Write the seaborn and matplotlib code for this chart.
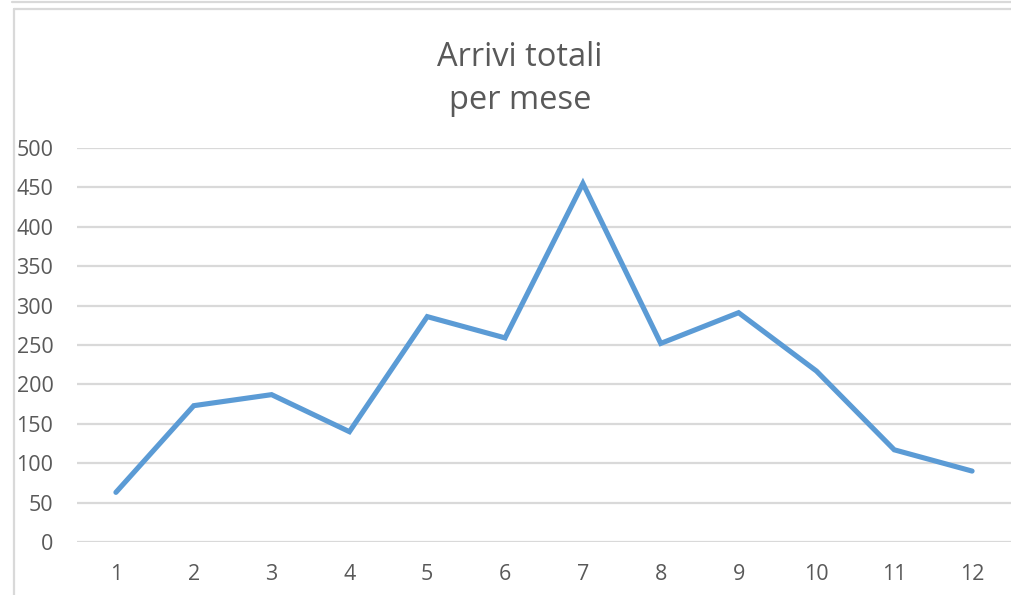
import matplotlib
matplotlib.use("Agg")
import matplotlib.pyplot as plt
from matplotlib.lines import Line2D
import seaborn as sns
import pandas as pd

# monthly arrivals
mesi = list(range(1, 13))
arrivi = [63, 173, 187, 140, 286, 259, 455, 252, 291, 217, 117, 90]

df = pd.DataFrame({"Mese": mesi, "Arrivi": arrivi})

sns.set_style("white")
plt.rcParams['font.family'] = ['Open Sans', 'DejaVu Sans']

fig = plt.figure(figsize=(10.11, 5.95), dpi=100)
ax = fig.add_axes([77 / 1011, 53 / 595, 934 / 1011, 394 / 595])

sns.lineplot(data=df, x="Mese", y="Arrivi", ax=ax, color="#5b9bd5",
             linewidth=3.7, solid_capstyle="round", solid_joinstyle="miter",
             zorder=3)

ax.set_xlim(0.5, 12.5)
ax.set_ylim(0, 500)
ax.set_xticks(mesi)
ax.set_yticks(range(0, 501, 50))
ax.yaxis.grid(True, color="#d9d9d9", linewidth=1.6)
ax.set_axisbelow(True)
for s in ax.spines.values():
    s.set_visible(False)
ax.tick_params(axis="both", length=0, labelsize=15.5, labelcolor="#595959")
ax.tick_params(axis="y", pad=17)
ax.tick_params(axis="x", pad=16)
ax.set_xlabel("")
ax.set_ylabel("")

# title, two lines, centred over chart area
fig.text(520 / 1011, 1 - 79 / 595, "Arrivi totali\nper mese", ha="center",
         va="center", fontsize=23.5, color="#595959", linespacing=1.42)

# chart frame borders (Excel-like)
fig.add_artist(Line2D([14 / 1011, 14 / 1011], [0, 1 - 9 / 595],
                      transform=fig.transFigure, color="#d9d9d9", linewidth=1.6))
fig.add_artist(Line2D([14 / 1011, 1], [1 - 9 / 595, 1 - 9 / 595],
                      transform=fig.transFigure, color="#d9d9d9", linewidth=1.6))
fig.add_artist(Line2D([12 / 1011, 1], [1 - 1.5 / 595, 1 - 1.5 / 595],
                      transform=fig.transFigure, color="#d9d9d9", linewidth=1.6))

fig.savefig("out.png", dpi=100)
